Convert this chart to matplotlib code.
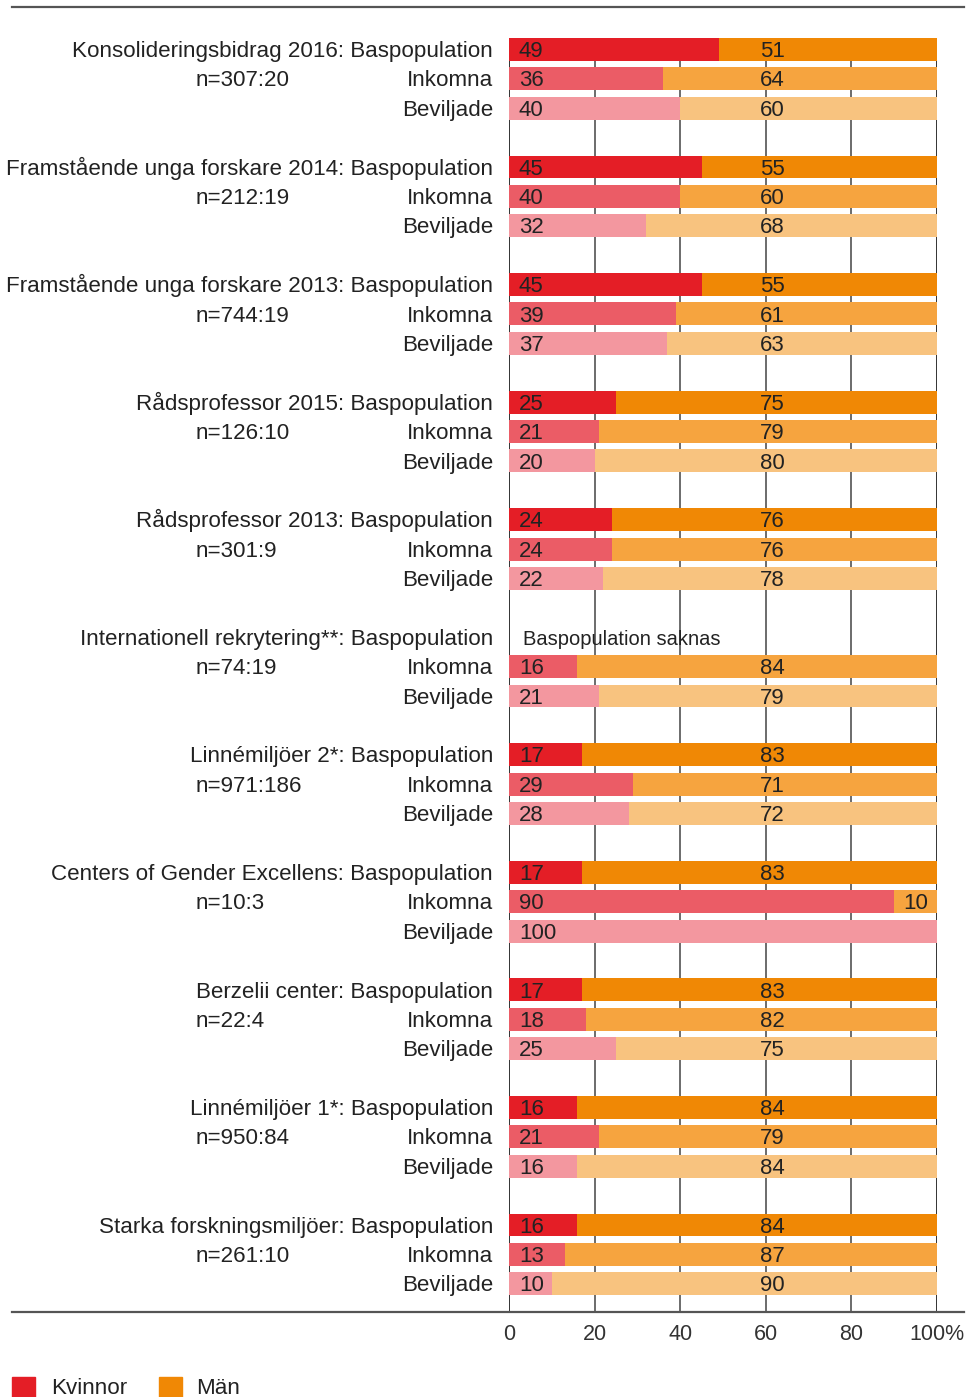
import matplotlib
matplotlib.use("Agg")
import matplotlib.pyplot as plt
from matplotlib.patches import Rectangle
from matplotlib.lines import Line2D

plt.rcParams['font.family'] = ['Liberation Sans', 'DejaVu Sans']

programs = ["Konsolideringsbidrag 2016", "Framstående unga forskare 2014",
            "Framstående unga forskare 2013", "Rådsprofessor 2015", "Rådsprofessor 2013",
            "Internationell rekrytering**", "Linnémiljöer 2*", "Centers of Gender Excellens",
            "Berzelii center", "Linnémiljöer 1*", "Starka forskningsmiljöer"]
n_labels = ["n=307:20", "n=212:19", "n=744:19", "n=126:10", "n=301:9", "n=74:19",
            "n=971:186", "n=10:3", "n=22:4", "n=950:84", "n=261:10"]
stages = ["Baspopulation", "Inkomna", "Beviljade"]
# women share (%) per stage; None = missing
women_bas = [49, 45, 45, 25, 24, None, 17, 17, 17, 16, 16]
women_ink = [36, 40, 39, 21, 24, 16, 29, 90, 18, 21, 13]
women_bev = [40, 32, 37, 20, 22, 21, 28, 100, 25, 16, 10]
men_bas = [51, 55, 55, 75, 76, None, 83, 83, 83, 84, 84]
men_ink = [64, 60, 61, 79, 76, 84, 71, 10, 82, 79, 87]
men_bev = [60, 68, 63, 80, 78, 79, 72, 0, 75, 84, 90]
ticks = [0, 20, 40, 60, 80, 100]
tick_labels = ["0", "20", "40", "60", "80", "100%"]
legend_labels = ["Kvinnor", "Män"]
missing_text = "Baspopulation saknas"

women_colors = ['#E41E26', '#EB5C66', '#F3979F']
men_colors = ['#F08805', '#F6A43F', '#F8C37F']
txt = '#222222'

W, H = 967, 1397
fig = plt.figure(figsize=(W / 100, H / 100), dpi=100)

def fx(px):
    return px / W

def fy(py):
    return 1 - py / H

ax = fig.add_axes([fx(509), fy(1312), fx(937) - fx(509), fy(38) - fy(1312)])
ax.set_xlim(0, 100)
ax.set_ylim(42.96, -0.39)
for s in ax.spines.values():
    s.set_visible(False)
ax.set_yticks([])
ax.set_xticks(ticks)
ax.set_xticklabels(tick_labels)
ax.tick_params(axis='x', length=0, pad=9, labelsize=15.5, labelcolor='#333333')

for t in [20, 40, 60, 80]:
    ax.axvline(t, color='#444444', lw=1.1, zorder=0)
for t in [0, 100]:
    ax.axvline(t, color='#111111', lw=1.2, zorder=0)

women = [women_bas, women_ink, women_bev]
men = [men_bas, men_ink, men_bev]
ytr = ax.get_yaxis_transform()
fs = 16.15
bh = 0.78
for g in range(len(programs)):
    for r in range(3):
        y = g * 4 + r
        w = women[r][g]
        m = men[r][g]
        if w is None:
            ax.text(3.3, y + 0.26, missing_text, ha='left', va='baseline',
                    fontsize=14.5, color=txt, zorder=3)
        else:
            ax.barh(y, w, height=bh, color=women_colors[r], zorder=2, lw=0)
            ax.barh(y, m, left=w, height=bh, color=men_colors[r], zorder=2, lw=0)
            ax.text(2.3, y + 0.26, str(w), ha='left', va='baseline', fontsize=16,
                    color=txt, zorder=3)
            if m:
                mx = 61.5 if w < 61.5 else w + m / 2
                ax.text(mx, y + 0.26, str(m), ha='center', va='baseline', fontsize=16,
                        color=txt, zorder=3)
        label = f"{programs[g]}: {stages[r]}" if r == 0 else stages[r]
        ax.text((493 - 509) / 428, y + 0.26, label, transform=ytr, ha='right',
                va='baseline', fontsize=fs, color=txt, clip_on=False)
    ax.text((196 - 509) / 428, g * 4 + 1 + 0.26, n_labels[g], transform=ytr, ha='left',
            va='baseline', fontsize=fs, color=txt, clip_on=False)

# top and bottom rules
fig.add_artist(Line2D([fx(12), fx(964)], [fy(7), fy(7)], color='#555555', lw=1.6))
fig.add_artist(Line2D([fx(12), fx(964)], [fy(1312), fy(1312)], color='#555555', lw=1.6))

# legend
lx = [12, 159]
tx = [51, 196]
for i, lab in enumerate(legend_labels):
    fig.add_artist(Rectangle((fx(lx[i]), fy(1400)), fx(23), 23 / H,
                             color=women_colors[0] if i == 0 else men_colors[0]))
    fig.text(fx(tx[i]), fy(1389), lab, ha='left', va='center', fontsize=16.15, color=txt)

fig.savefig("out.png", dpi=100)
